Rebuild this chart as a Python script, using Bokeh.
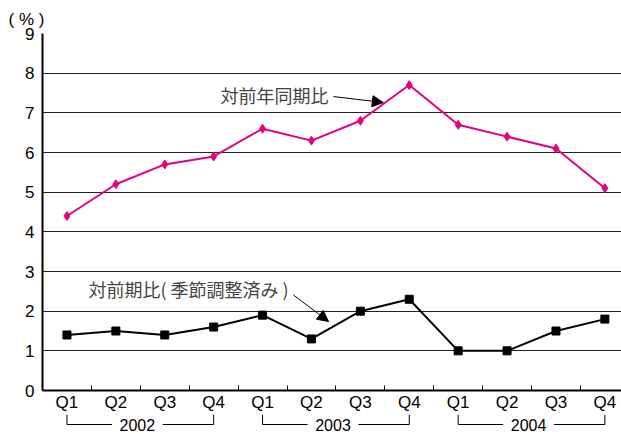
from bokeh.plotting import figure
from bokeh.layouts import column
from bokeh.models import Range1d, FixedTicker, Label, Arrow, NormalHead
from bokeh.embed import file_html
from bokeh.resources import INLINE
from bokeh.core.properties import value

# ---- data ----
quarters = ["Q1", "Q2", "Q3", "Q4", "Q1", "Q2", "Q3", "Q4", "Q1", "Q2", "Q3", "Q4"]
years = ["2002", "2003", "2004"]
yoy = [4.4, 5.2, 5.7, 5.9, 6.6, 6.3, 6.8, 7.7, 6.7, 6.4, 6.1, 5.1]      # 対前年同期比
qoq = [1.4, 1.5, 1.4, 1.6, 1.9, 1.3, 2.0, 2.3, 1.0, 1.0, 1.5, 1.8]      # 対前期比(季節調整済み)
y_ticks = [0, 1, 2, 3, 4, 5, 6, 7, 8, 9]
yoy_label = "対前年同期比"
qoq_label = "対前期比( 季節調整済み )"
unit_label = "( % )"

PINK = "#E4007F"
LATIN = "Liberation Sans"
CJK = "Noto Sans CJK JP"

x = list(range(len(quarters)))
xr = Range1d(-0.5, 11.34)

p = figure(width=621, height=414, output_backend="svg", toolbar_location=None,
           x_range=xr, y_range=Range1d(0, 9),
           min_border_left=42, min_border_right=0, min_border_top=33,
           min_border_bottom=20)
p.outline_line_color = None
p.background_fill_color = "white"

# unit label as title
p.title.text = unit_label
p.title.align = "left"
p.title.offset = -34
p.title.standoff = 9
p.title.text_font = LATIN
p.title.text_font_size = "17px"
p.title.text_font_style = "normal"
p.title.text_color = "black"

# x axis
p.xaxis.ticker = FixedTicker(ticks=x, minor_ticks=[i + 0.5 for i in range(len(quarters))])
p.xaxis.major_label_overrides = {i: q for i, q in zip(x, quarters)}
p.xaxis.major_tick_in = 0
p.xaxis.major_tick_out = 0
p.xaxis.minor_tick_in = 5
p.xaxis.minor_tick_out = 0
p.xaxis.minor_tick_line_color = "black"
p.xaxis.axis_line_color = "black"
p.xaxis.axis_line_width = 2
p.xaxis.major_label_text_font = LATIN
p.xaxis.major_label_text_font_size = "17px"
p.xaxis.major_label_text_color = "black"
p.xaxis.major_label_standoff = 2
p.xgrid.visible = False

# y axis
p.yaxis.ticker = FixedTicker(ticks=y_ticks)
p.yaxis.major_tick_in = 0
p.yaxis.major_tick_out = 0
p.yaxis.minor_tick_line_color = None
p.yaxis.axis_line_color = "black"
p.yaxis.axis_line_width = 2
p.yaxis.major_label_text_font = LATIN
p.yaxis.major_label_text_font_size = "17px"
p.yaxis.major_label_text_color = "black"
p.yaxis.major_label_standoff = 8
p.ygrid.ticker = FixedTicker(ticks=y_ticks)
p.ygrid.grid_line_color = "#222222"
p.ygrid.grid_line_width = 1

# series
p.line(x, yoy, line_color=PINK, line_width=2)
p.scatter(x, yoy, marker="diamond", size=9, fill_color=PINK, line_color=PINK)
p.line(x, qoq, line_color="black", line_width=2)
p.scatter(x, qoq, marker="square", size=8, fill_color="black", line_color="black")

# series annotations
p.add_layout(Label(x=5.35, y=7.46, text=yoy_label, text_align="right",
                   text_baseline="middle", text_font=CJK, text_font_size="18px"))
p.add_layout(Arrow(end=NormalHead(size=11, fill_color="black", line_color="black"),
                   x_start=5.45, y_start=7.41, x_end=6.47, y_end=7.26,
                   line_color="black", line_width=1))
p.add_layout(Label(x=0.44, y=2.56, text=qoq_label, text_align="left",
                   text_baseline="middle", text_font=CJK, text_font_size="18px"))
p.add_layout(Arrow(end=NormalHead(size=11, fill_color="black", line_color="black"),
                   x_start=4.63, y_start=2.41, x_end=5.35, y_end=1.74,
                   line_color="black", line_width=1))

# year brackets strip
p2 = figure(width=621, height=20, output_backend="svg", toolbar_location=None,
            x_range=xr, y_range=Range1d(0, 20),
            min_border_left=42, min_border_right=0, min_border_top=0,
            min_border_bottom=0)
p2.outline_line_color = None
p2.axis.visible = False
p2.grid.visible = False

half = 0.52
xs_list, ys_list, tx, ty = [], [], [], []
for g, yr in enumerate(years):
    x0 = 4 * g
    x1 = 4 * g + 3
    xc = 4 * g + 1.44
    xs_list += [[x0, x0, xc - half], [xc + half, x1, x1]]
    ys_list += [[20, 10, 10], [10, 10, 20]]
    tx.append(xc)
    ty.append(10)
p2.multi_line(xs_list, ys_list, line_color="black", line_width=1)
p2.text(tx, ty, text=years, text_align="center", text_baseline="middle",
        text_font=value(LATIN), text_font_size="16px", text_color="black")

layout = column(p, p2, spacing=0)
open("out.html", "w").write(file_html(layout, INLINE))
